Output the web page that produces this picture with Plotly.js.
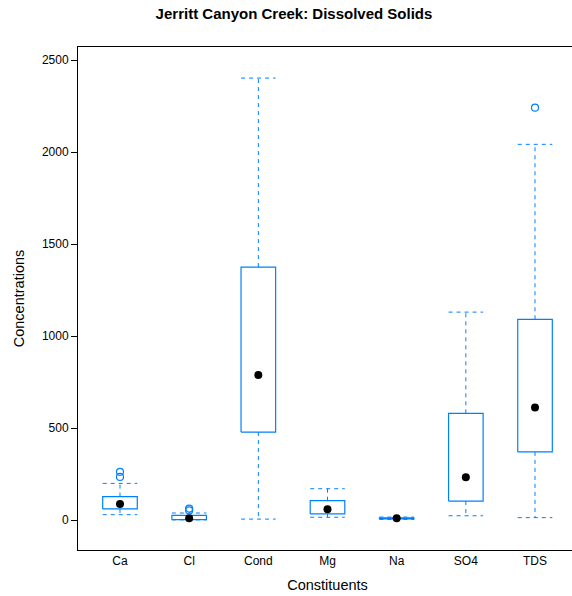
<!DOCTYPE html>
<html>
<head>
<meta charset="utf-8">
<script src="https://cdn.plot.ly/plotly-3.0.1.min.js"></script>
<style>
html,body{margin:0;padding:0;overflow:hidden;background:#fff;width:572px;height:596px;}
#chart{width:600px;height:596px;}
</style>
</head>
<body>
<div id="chart"></div>
<script>
// Data
var categories = ["Ca", "Cl", "Cond", "Mg", "Na", "SO4", "TDS"];
var lowerWhisker = [29, 1, 5, 15, 3, 23, 13];
var q1Values     = [60, 2, 478, 33, 6, 103, 370];
var medianValues = [87, 9, 788, 58, 9, 232, 612];
var q3Values     = [127, 25, 1375, 105, 12, 580, 1091];
var upperWhisker = [199, 38, 2402, 170, 16, 1130, 2042];
var outlierCats  = ["Ca", "Ca", "Cl", "Cl", "TDS"];
var outlierVals  = [262, 234, 62, 52, 2241];

var boxColor = "#0080ff";
var half = 0.25;
var traces = [];

var bx = [], by = [];
var wx = [], wy = [];
categories.forEach(function (c, i) {
  bx.push(i - half, i + half, i + half, i - half, i - half, null);
  by.push(q1Values[i], q1Values[i], q3Values[i], q3Values[i], q1Values[i], null);
  wx.push(i, i, null, i - half, i + half, null);
  wy.push(q1Values[i], lowerWhisker[i], null, lowerWhisker[i], lowerWhisker[i], null);
  wx.push(i, i, null, i - half, i + half, null);
  wy.push(q3Values[i], upperWhisker[i], null, upperWhisker[i], upperWhisker[i], null);
});

traces.push({
  type: "scatter", mode: "lines", x: wx, y: wy,
  line: {color: boxColor, width: 1, dash: "4px,4px"},
  hoverinfo: "skip", showlegend: false
});
traces.push({
  type: "scatter", mode: "lines", x: bx, y: by,
  line: {color: boxColor, width: 1.2},
  hoverinfo: "skip", showlegend: false
});
traces.push({
  type: "scatter", mode: "markers",
  x: categories.map(function (c, i) { return i; }), y: medianValues,
  marker: {color: "#000", size: 8, symbol: "circle"},
  showlegend: false
});
traces.push({
  type: "scatter", mode: "markers",
  x: outlierCats.map(function (c) { return categories.indexOf(c); }), y: outlierVals,
  marker: {color: boxColor, size: 7, symbol: "circle-open", line: {color: boxColor, width: 1.2}},
  showlegend: false
});

var layout = {
  width: 600, height: 596,
  margin: {l: 78, r: 23, t: 47, b: 46, pad: 0},
  paper_bgcolor: "#fff", plot_bgcolor: "#fff",
  font: {family: "Liberation Sans, Arial, sans-serif", color: "#000", size: 12},
  title: {
    text: "<b>Jerritt Canyon Creek: Dissolved Solids</b>",
    font: {size: 15, color: "#000"},
    xref: "container", x: 294 / 600, xanchor: "center",
    yref: "container", y: 1 - 14 / 596, yanchor: "middle"
  },
  xaxis: {
    range: [-0.607, 6.607],
    tickmode: "array",
    tickvals: categories.map(function (c, i) { return i; }),
    ticktext: categories,
    ticks: "", showgrid: false, zeroline: false,
    showline: true, linecolor: "#000", linewidth: 1, mirror: true,
    tickfont: {size: 12},
    title: {text: "Constituents", font: {size: 14.5}, standoff: 12}
  },
  yaxis: {
    range: [-163, 2571],
    tickmode: "array",
    tickvals: [0, 500, 1000, 1500, 2000, 2500],
    ticks: "outside", ticklen: 6, tickcolor: "#000", tickwidth: 1,
    showgrid: false, zeroline: false,
    showline: true, linecolor: "#000", linewidth: 1, mirror: false,
    tickfont: {size: 12},
    title: {text: "Concentrations", font: {size: 14.5}, standoff: 13}
  }
};

Plotly.newPlot("chart", traces, layout, {displayModeBar: false, staticPlot: true});
</script>
</body>
</html>
